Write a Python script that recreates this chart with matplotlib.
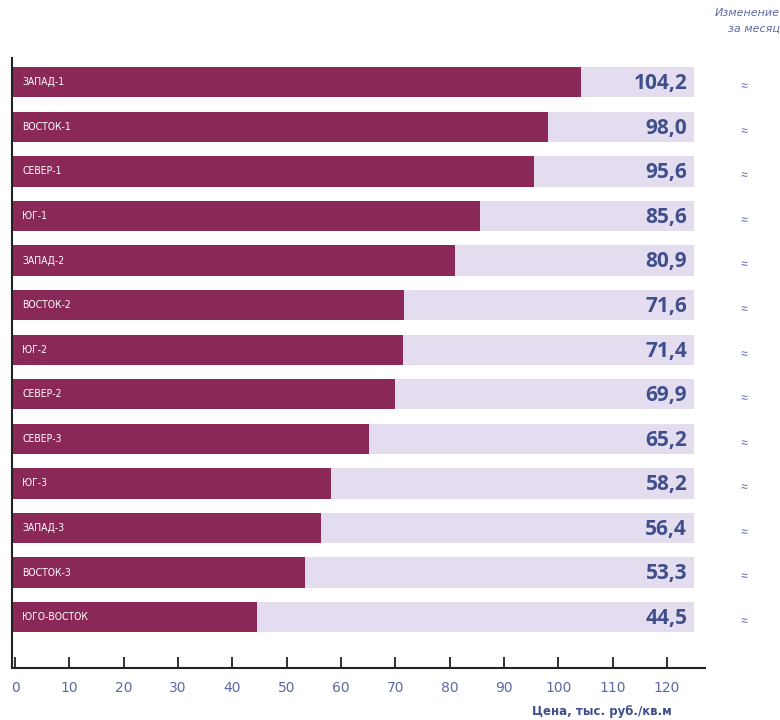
import matplotlib
matplotlib.use("Agg")
import matplotlib.pyplot as plt

districts = ["ЗАПАД-1", "ВОСТОК-1", "СЕВЕР-1", "ЮГ-1", "ЗАПАД-2", "ВОСТОК-2", "ЮГ-2",
             "СЕВЕР-2", "СЕВЕР-3", "ЮГ-3", "ЗАПАД-3", "ВОСТОК-3", "ЮГО-ВОСТОК"]
prices = [104.2, 98.0, 95.6, 85.6, 80.9, 71.6, 71.4, 69.9, 65.2, 58.2, 56.4, 53.3, 44.5]
change = ["≈"] * len(districts)
scale_max = 125
xticks = list(range(0, 121, 10))

bar_color = "#8a2857"
track_color = "#e4ddef"
blue = "#3f4f8c"
tick_blue = "#5c6aa6"
narrow = ["Liberation Sans Narrow", "DejaVu Sans"]

plt.rcParams["font.family"] = ["Open Sans", "DejaVu Sans"]

fig = plt.figure(figsize=(7.8, 7.2), dpi=100)
ax = fig.add_axes([0.0154, 0.0722, 0.8886, 0.847])

ypos = list(range(len(districts)))
start = -0.4
ax.barh(ypos, [scale_max - start] * len(districts), height=0.68, color=track_color,
        left=start, zorder=1)
ax.barh(ypos, [p - start for p in prices], height=0.68, color=bar_color, left=start, zorder=2)

for y, name, val, ch in zip(ypos, districts, prices, change):
    ax.text(1.3, y, name, color="white", fontsize=7.5, va="center", ha="left",
            family=narrow, fontstretch="condensed", zorder=3)
    ax.text(123.7, y + 0.03, f"{val:.1f}".replace(".", ","), color=blue, fontsize=15,
            fontweight="bold", va="center", ha="right", zorder=3)
    ax.text(134.2, y + 0.1, ch, color=tick_blue, fontsize=9, va="center", ha="center",
            clip_on=False)

ax.text(140.8, -1.55, "Изменение", color=tick_blue, fontsize=8, fontstyle="italic",
        ha="right", va="center", family=narrow)
ax.text(140.8, -1.2, "за месяц", color=tick_blue, fontsize=8, fontstyle="italic",
        ha="right", va="center", family=narrow)

ax.set_xlim(-0.55, 127)
ax.set_ylim(13.14, -0.54)
ax.set_yticks([])
ax.set_xticks(xticks)
ax.set_xticklabels([str(t) for t in xticks], color=tick_blue, fontsize=10, family=narrow)
ax.tick_params(axis="x", direction="in", length=8, width=1.3, color="#222222", pad=9)
for side in ("top", "right"):
    ax.spines[side].set_visible(False)
for side in ("left", "bottom"):
    ax.spines[side].set_linewidth(1.5)
    ax.spines[side].set_color("#222222")

fig.text(672 / 780, 1 - 712 / 720, "Цена, тыс. руб./кв.м", color=blue, fontsize=8.5,
         fontweight="bold", ha="right", va="center", family=narrow)

fig.savefig("out.png", dpi=100, facecolor="white")
